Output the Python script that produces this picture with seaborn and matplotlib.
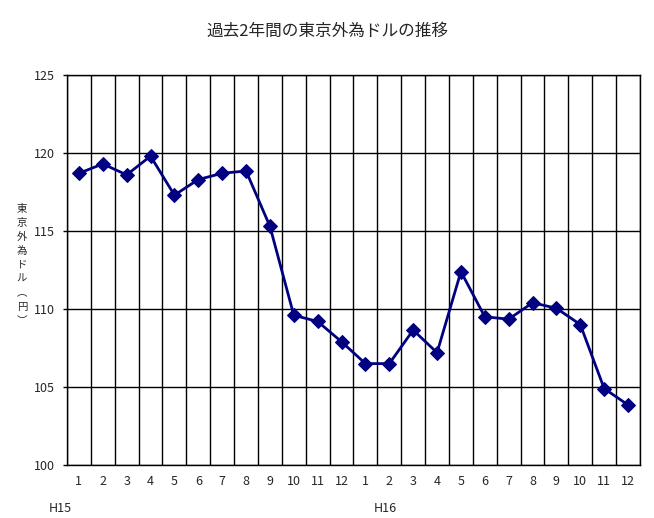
import numpy as np
import pandas as pd
import matplotlib
matplotlib.use('Agg')
import matplotlib.pyplot as plt
import seaborn as sns

## monthly values (H15 Jan - H16 Dec)
months = [str(m) for m in range(1, 13)] * 2
rates = [118.7, 119.3, 118.6, 119.8, 117.3, 118.3, 118.7, 118.85, 115.3, 109.6, 109.2, 107.9,
         106.5, 106.5, 108.65, 107.2, 112.4, 109.5, 109.35, 110.4, 110.05, 109.0, 104.9, 103.85]
years = ['H15', 'H16']
yticks = [100, 105, 110, 115, 120, 125]
ylabel = '東京外為ドル︵円︶'

sns.set_style('white')
plt.rcParams['font.family'] = ['Noto Sans CJK JP', 'DejaVu Sans']

df = pd.DataFrame({'pos': np.arange(len(rates)), 'month': months, 'rate': rates})

fig = plt.figure(figsize=(6.54, 5.18), dpi=100)
ax = fig.add_axes([0.1024, 0.1023, 0.8762, 0.7529])

sns.lineplot(data=df, x='pos', y='rate', color='#000080', marker='D', markersize=7,
             markeredgecolor='#000080', linewidth=2, ax=ax, zorder=3)

ax.set_xlim(-0.5, len(rates) - 0.5)
ax.set_ylim(100, 125)
ax.set_yticks(yticks)
ax.set_yticklabels([str(v) for v in yticks], fontsize=9)
ax.set_xticks(df['pos'])
ax.set_xticklabels(months, fontsize=9)
ax.set_xticks(np.arange(-0.5, len(rates), 1), minor=True)
ax.grid(True, which='minor', axis='x', color='black', linewidth=1)
ax.grid(True, which='major', axis='y', color='black', linewidth=1)
ax.tick_params(axis='x', which='both', length=0, pad=7)
ax.tick_params(axis='y', length=3, width=1, color='black', direction='out', left=True, pad=6)
for s in ax.spines.values():
    s.set_color('black')
    s.set_linewidth(1)
ax.set_xlabel('')
ax.set_ylabel('')

fig.text(0.5, 0.94, '過去2年間の東京外為ドルの推移', ha='center', va='center', fontsize=12)
# stacked vertical axis title, one character per row
fig.text(22 / 654, 1 - 265 / 518, '\n'.join(ylabel), ha='center', va='center',
         fontsize=7.5, linespacing=1.5)
fig.text(60 / 654, 1 - 508 / 518, years[0], ha='center', va='center', fontsize=9)
fig.text(385 / 654, 1 - 508 / 518, years[1], ha='center', va='center', fontsize=9)

fig.savefig('out.png', dpi=100)
